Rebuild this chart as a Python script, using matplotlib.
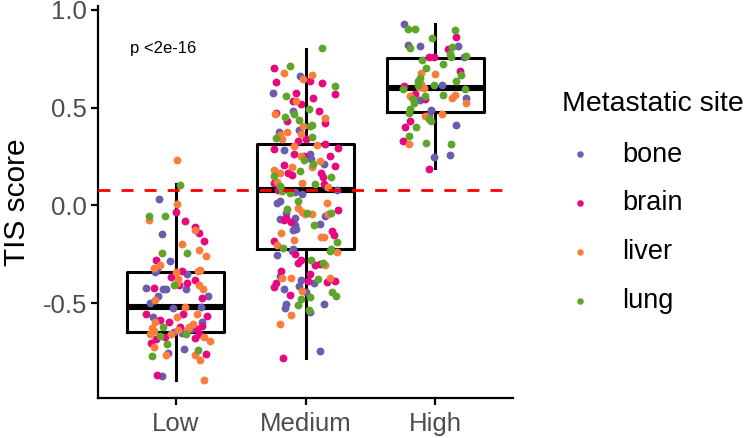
import matplotlib
matplotlib.use("Agg")
import matplotlib.pyplot as plt
import numpy as np

plt.rcParams['font.family'] = ['Liberation Sans', 'DejaVu Sans']

# groups and site colours
groups = ["Low", "Medium", "High"]
sites = ["bone", "brain", "liver", "lung"]
site_colors = {"bone": "#6A5DB0", "brain": "#E5087E", "liver": "#FA7D3C", "lung": "#5FA52A"}

# box statistics (whisker low, Q1, median, Q3, whisker high)
box_wlo = [-0.895, -0.78, 0.19]
box_q1 = [-0.650, -0.225, 0.476]
box_med = [-0.520, 0.077, 0.600]
box_q3 = [-0.343, 0.312, 0.752]
box_whi = [0.107, 0.800, 0.926]

ref_line = 0.077
p_label = "p <2e-16"

# jittered points: horizontal jitter (category units), TIS score, site
low_jit = [0.01, 0.03, -0.13, 0.01, 0.0, -0.21, -0.21, -0.08, 0.07, 0.15, 0.145, 0.175, -0.11, 0.22,
           0.045, 0.18, -0.11, 0.09, 0.23, -0.045, -0.15, -0.125, -0.17, -0.16, -0.145, 0.0, 0.05, 0.17,
           0.19, -0.04, 0.085, 0.02, 0.15, -0.23, -0.165, -0.10, -0.075, -0.013, 0.028, 0.013, 0.09, 0.08,
           0.175, 0.21, 0.205, 0.25, -0.135, -0.16, -0.20, -0.023, 0.07, 0.195, -0.23, -0.175, -0.125, -0.16,
           -0.05, 0.013, 0.053, 0.16, 0.24, 0.13, 0.20, 0.105, -0.18, -0.10, 0.033, 0.20, 0.018, 0.12, 0.16,
           -0.17, -0.20, -0.013, 0.046, 0.09, -0.08, -0.125, -0.15, 0.08, -0.04, 0.15, 0.18, 0.215, -0.19,
           -0.07, -0.17, 0.26, 0.066, 0.17, -0.06, -0.075, 0.147, 0.23, -0.18, 0.19, -0.147, -0.11, 0.22]
low_tis = [0.232, 0.106, 0.032, 0.005, -0.034, -0.053, -0.075, -0.053, -0.082, -0.109, -0.128, -0.143,
           -0.145, -0.184, -0.198, -0.230, -0.246, -0.246, -0.257, -0.283, -0.280, -0.305, -0.32, -0.343,
           -0.327, -0.343, -0.336, -0.336, -0.329, -0.367, -0.353, -0.375, -0.38, -0.421, -0.421, -0.43,
           -0.43, -0.406, -0.409, -0.395, -0.40, -0.43, -0.409, -0.426, -0.472, -0.464, -0.465, -0.486,
           -0.498, -0.523, -0.52, -0.52, -0.558, -0.574, -0.585, -0.597, -0.597, -0.571, -0.558, -0.554,
           -0.566, -0.605, -0.597, -0.622, -0.626, -0.622, -0.622, -0.617, -0.639, -0.634, -0.634, -0.644,
           -0.66, -0.648, -0.651, -0.639, -0.675, -0.670, -0.682, -0.66, -0.658, -0.678, -0.661, -0.673,
           -0.704, -0.708, -0.725, -0.696, -0.733, -0.742, -0.754, -0.764, -0.767, -0.762, -0.772, -0.793,
           -0.870, -0.873, -0.895]
low_site = ["liver", "lung", "bone", "liver", "brain", "lung", "liver", "lung", "brain", "brain", "liver",
            "brain", "bone", "brain", "liver", "liver", "lung", "lung", "liver", "bone", "brain", "liver",
            "liver", "bone", "bone", "liver", "brain", "liver", "liver", "brain", "bone", "liver", "brain",
            "bone", "brain", "bone", "bone", "lung", "brain", "liver", "brain", "bone", "liver", "liver",
            "brain", "bone", "bone", "liver", "bone", "bone", "liver", "bone", "brain", "bone", "brain",
            "liver", "brain", "liver", "brain", "liver", "brain", "liver", "bone", "liver", "liver", "lung",
            "brain", "brain", "liver", "bone", "brain", "liver", "liver", "bone", "bone", "liver", "brain",
            "lung", "brain", "lung", "liver", "brain", "brain", "liver", "brain", "lung", "liver", "liver",
            "bone", "lung", "bone", "liver", "liver", "brain", "lung", "liver", "brain", "bone", "liver"]

med_jit = [0.127, -0.24, -0.12, -0.168, -0.04, 0.048, -0.02, 0.036, -0.23, 0.13, 0.23, -0.247, -0.15,
           -0.074, 0.23, 0.056, -0.076, -0.097, -0.033, 0.025, 0.107, -0.23, -0.234, -0.10, -0.16, -0.086,
           -0.143, -0.053, 0.153, 0.147, 0.05, 0.036, -0.018, -0.05, -0.038, -0.206, -0.14, -0.196, -0.23,
           -0.18, 0.0, 0.048, -0.06, 0.09, 0.147, 0.247, -0.168, -0.24, -0.09,
           -0.086, -0.013, 0.038, -0.038, 0.043, 0.19, 0.11, -0.015, 0.145, -0.24, -0.168, -0.105, 0.06,
           0.048, 0.23, -0.193, -0.135, -0.044, -0.107, 0.12, -0.242, 0.137, 0.20, -0.22, -0.24, -0.028,
           0.074, 0.145, 0.176, -0.20, -0.21, -0.18, -0.084, -0.028, 0.166, 0.245, -0.117, -0.056, -0.216,
           -0.198, 0.166, -0.059, -0.145, -0.028, -0.002, 0.013, 0.048, -0.153, 0.196, 0.247, -0.148,
           -0.084, 0.15, 0.17, -0.165, -0.11, -0.193, -0.082, 0.069, 0.115, -0.19, 0.204, 0.216, -0.097,
           -0.076, 0.117, 0.145, -0.242, 0.24, -0.09, -0.22, -0.17, -0.097, 0.196,
           -0.105, -0.084, -0.22, 0.19, 0.24, -0.033, -0.059, 0.043, 0.07, 0.115, 0.15, 0.135, -0.19,
           -0.196, -0.18, -0.112, 0.033, 0.02, -0.033, 0.097, 0.166, 0.19, 0.23, -0.23, -0.24, 0.063,
           -0.048, -0.165, -0.025, 0.005, 0.204, 0.234, -0.12, 0.033, -0.033, -0.15, -0.16, 0.14, -0.061,
           0.025, 0.033, -0.112, -0.198, 0.11, -0.176]
med_tis = [0.807, 0.702, 0.711, 0.677, 0.661, 0.667, 0.646, 0.634, 0.633, 0.627, 0.610, 0.573, 0.559,
           0.576, 0.568, 0.547, 0.532, 0.535, 0.517, 0.495, 0.481, 0.474, 0.465, 0.484, 0.452, 0.465,
           0.430, 0.435, 0.445, 0.421, 0.409, 0.404, 0.408, 0.387, 0.363, 0.375, 0.375, 0.358, 0.344,
           0.339, 0.341, 0.351, 0.329, 0.307, 0.316, 0.295, 0.285, 0.286, 0.305,
           0.261, 0.252, 0.264, 0.251, 0.239, 0.252, 0.225, 0.234, 0.213, 0.183, 0.208, 0.196, 0.210,
           0.196, 0.199, 0.165, 0.165, 0.174, 0.155, 0.167, 0.150, 0.145, 0.145, 0.119, 0.116, 0.114,
           0.107, 0.111, 0.094, 0.097, 0.077, 0.073, 0.066, 0.060, 0.094, 0.077, 0.065, 0.022, 0.012,
           0.020, 0.012, -0.014, -0.017, -0.034, -0.043, -0.039, -0.046, -0.039, -0.039, -0.026, -0.063,
           -0.063, -0.056, -0.046, -0.077, -0.085, -0.070, -0.101, -0.099, -0.094, -0.142, -0.131, -0.15,
           -0.128, -0.121, -0.162, -0.162, -0.184, -0.188, -0.179, -0.205, -0.216, -0.222, -0.222,
           -0.235, -0.247, -0.252, -0.234, -0.239, -0.280, -0.293, -0.281, -0.307, -0.302, -0.307, -0.293,
           -0.334, -0.362, -0.373, -0.373, -0.351, -0.385, -0.382, -0.379, -0.392, -0.373, -0.385, -0.395,
           -0.419, -0.399, -0.414, -0.43, -0.44, -0.443, -0.443, -0.464, -0.457, -0.471, -0.481, -0.503,
           -0.525, -0.503, -0.512, -0.534, -0.546, -0.559, -0.607, -0.747, -0.779]
med_site = ["lung", "brain", "lung", "liver", "bone", "liver", "liver", "brain", "brain", "brain", "lung",
            "bone", "lung", "brain", "brain", "brain", "liver", "brain", "brain", "lung", "brain", "brain",
            "liver", "bone", "lung", "lung", "brain", "lung", "liver", "brain", "lung", "lung", "liver",
            "bone", "liver", "bone", "liver", "liver", "lung", "liver", "brain", "lung", "brain", "liver",
            "brain", "brain", "bone", "brain", "liver",
            "brain", "brain", "bone", "liver", "bone", "brain", "liver", "lung", "bone", "liver", "brain",
            "liver", "lung", "liver", "brain", "liver", "brain", "lung", "brain", "brain", "lung", "brain",
            "lung", "liver", "brain", "liver", "lung", "brain", "liver", "lung", "brain", "lung", "bone",
            "bone", "bone", "bone", "lung", "lung", "bone", "bone", "liver", "liver", "lung", "liver",
            "liver", "lung", "liver", "bone", "lung", "brain", "brain", "bone", "bone", "liver", "brain",
            "brain", "bone", "bone", "lung", "bone", "liver", "brain", "brain", "bone", "bone", "liver",
            "liver", "brain", "lung", "liver", "liver", "lung", "bone", "lung",
            "bone", "brain", "bone", "lung", "liver", "brain", "brain", "lung", "brain", "brain", "liver",
            "lung", "brain", "bone", "liver", "liver", "brain", "brain", "bone", "lung", "brain", "liver",
            "brain", "brain", "brain", "bone", "bone", "bone", "liver", "bone", "lung", "lung", "brain",
            "lung", "lung", "bone", "bone", "bone", "lung", "lung", "bone", "liver", "liver", "bone", "brain"]

high_jit = [-0.244, -0.21, -0.158, 0.153, 0.16, -0.023, -0.208, -0.196, -0.12, 0.10, 0.132, 0.176, 0.115,
            0.122, -0.05, -0.013, -0.105, 0.22, 0.24, 0.06, -0.074, 0.19, -0.107, 0.0, 0.196, -0.12, -0.13,
            -0.135, 0.163, -0.107, -0.125, -0.086, -0.008, 0.05, -0.237, -0.25, 0.227, -0.198, -0.158,
            -0.173, -0.082, -0.082, -0.117, 0.06, 0.153, 0.132, 0.24, 0.237, -0.166, -0.193, -0.20, -0.033,
            -0.046, -0.076, 0.053, -0.033, -0.046, 0.158, -0.198, -0.23, -0.145, -0.20, -0.25, -0.204,
            -0.071, 0.12, -0.013, 0.112, -0.044]
high_tis = [0.929, 0.904, 0.90, 0.895, 0.859, 0.854, 0.818, 0.805, 0.813, 0.801, 0.81, 0.817, 0.776, 0.759,
            0.757, 0.757, 0.745, 0.757, 0.762, 0.721, 0.704, 0.687, 0.679, 0.674, 0.665, 0.653, 0.636, 0.614,
            0.636, 0.623, 0.605, 0.602, 0.614, 0.616, 0.61, 0.593, 0.597, 0.559, 0.569, 0.546, 0.559, 0.542,
            0.537, 0.563, 0.566, 0.549, 0.547, 0.525, 0.525, 0.495, 0.472, 0.486, 0.464, 0.457, 0.469, 0.43,
            0.443, 0.413, 0.43, 0.402, 0.402, 0.354, 0.331, 0.314, 0.317, 0.314, 0.246, 0.256, 0.188]
high_site = ["bone", "lung", "lung", "lung", "brain", "lung", "bone", "lung", "bone", "brain", "lung",
             "bone", "lung", "lung", "brain", "brain", "lung", "bone", "lung", "lung", "lung", "brain",
             "liver", "liver", "lung", "lung", "lung", "lung", "lung", "liver", "liver", "liver", "lung",
             "bone", "brain", "lung", "lung", "liver", "brain", "lung", "lung", "brain", "bone", "lung",
             "liver", "liver", "bone", "liver", "lung", "lung", "lung", "bone", "bone", "liver", "liver",
             "lung", "lung", "bone", "brain", "brain", "lung", "lung", "brain", "liver", "lung", "lung",
             "bone", "bone", "brain"]

fig = plt.figure(figsize=(7.53, 4.38), dpi=100)
ax = fig.add_axes([98 / 753, 1 - 398 / 438, 415 / 753, 392 / 438])

# boxes
stats = []
for i in range(3):
    stats.append(dict(whislo=box_wlo[i], q1=box_q1[i], med=box_med[i], q3=box_q3[i], whishi=box_whi[i]))
ax.bxp(stats, positions=[1, 2, 3], widths=0.75, showfliers=False, showcaps=False,
       boxprops=dict(color="black", linewidth=2.2),
       whiskerprops=dict(color="black", linewidth=2.2),
       medianprops=dict(color="black", linewidth=4.4, solid_capstyle="butt"),
       zorder=2)

# points
for pos, jit, tis, site in [(1, low_jit, low_tis, low_site),
                            (2, med_jit, med_tis, med_site),
                            (3, high_jit, high_tis, high_site)]:
    jit = np.array(jit)
    tis = np.array(tis)
    site = np.array(site)
    for s in sites:
        m = site == s
        ax.scatter(pos + jit[m], tis[m], s=32, color=site_colors[s], linewidths=0, zorder=3)

# legend handles
for s in sites:
    ax.scatter([], [], s=22, color=site_colors[s], linewidths=0, label=s)

ax.axhline(ref_line, color="red", linewidth=2.0, linestyle=(0, (4.3, 4.0)), zorder=4)
ax.text(130 / 753, 1 - 48 / 438, p_label, fontsize=12, color="black", ha="left", va="center",
        transform=fig.transFigure)

ax.set_xlim(0.4, 3.6)
ax.set_ylim(-0.986, 1.020)
ax.set_xticks([1, 2, 3])
ax.set_xticklabels(groups)
ax.set_yticks([-0.5, 0.0, 0.5, 1.0])
ax.set_yticklabels(["-0.5", "0.0", "0.5", "1.0"])
ax.tick_params(axis="both", labelsize=18.5, colors="#4D4D4D", width=1.6, length=5, pad=3)
ax.tick_params(axis="x", pad=5)
ax.tick_params(axis="both", color="black")
for side in ["top", "right"]:
    ax.spines[side].set_visible(False)
for side in ["left", "bottom"]:
    ax.spines[side].set_linewidth(1.6)
ax.set_ylabel("TIS score", fontsize=21.5, labelpad=8)

leg = ax.legend(title="Metastatic site", loc="upper left", bbox_to_anchor=(548 / 753, 1 - 77 / 438),
                bbox_transform=fig.transFigure, frameon=False, fontsize=19.5, title_fontsize=20.5,
                alignment="left", handletextpad=0.9, labelspacing=0.84, borderpad=0,
                handlelength=1.35, markerscale=1.0)
leg._legend_box.sep = 18

fig.savefig("out.png", dpi=100)
